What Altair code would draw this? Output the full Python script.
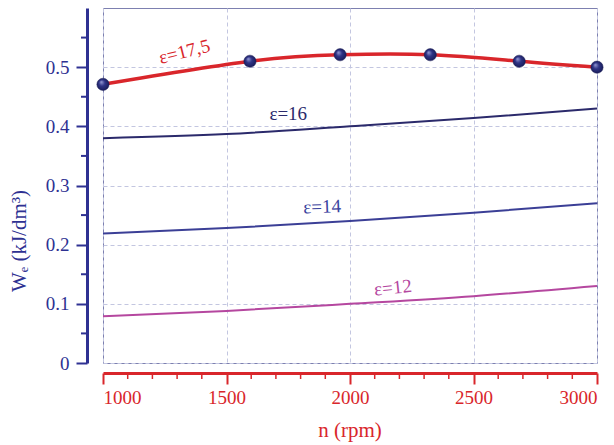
import altair as alt
import pandas as pd

# Data
n_175 = [1000, 1595, 1960, 2325, 2685, 3000]
w_175 = [0.471, 0.510, 0.521, 0.521, 0.510, 0.500]

n_lines = [1000, 1500, 2000, 2500, 3000]
w_16 = [0.380, 0.387, 0.400, 0.414, 0.430]
w_14 = [0.219, 0.228, 0.240, 0.254, 0.270]
w_12 = [0.079, 0.088, 0.100, 0.113, 0.130]

label_text = ["ε=17,5", "ε=16", "ε=14", "ε=12"]
label_n = [1330, 1750, 1887, 2174]
label_w = [0.526, 0.421, 0.264, 0.127]
label_angle = [346, 0, 358, 354]
label_color = ["#d9262b", "#2b2a6b", "#3b44a0", "#b5479f"]

y_ticks = [0, 0.1, 0.2, 0.3, 0.4, 0.5]
y_minor = [0.05, 0.15, 0.25, 0.35, 0.45, 0.55]
x_ticks = [1000, 1500, 2000, 2500, 3000]
x_minor = [v for v in range(1100, 3000, 100) if v % 500 != 0]

BLUE = "#2e3192"
RED = "#d9262b"
FONT = "Liberation Serif"
W, H = 494, 355

df175 = pd.DataFrame({"n": n_175, "w": w_175})
dflines = pd.DataFrame({
    "n": n_lines * 3,
    "w": w_16 + w_14 + w_12,
    "s": ["16"] * 5 + ["14"] * 5 + ["12"] * 5,
})
dflab = pd.DataFrame({"n": label_n, "w": label_w, "t": label_text,
                      "a": label_angle, "c": label_color})

xscale = alt.Scale(domain=[1000, 3000], nice=False)
yscale = alt.Scale(domain=[0, 0.6], nice=False)

xaxis = alt.Axis(values=x_ticks, format="d", title=None, offset=10,
                 domainColor=RED, domainWidth=3, tickColor=RED, tickWidth=2,
                 tickSize=11, labelColor=RED, labelFont=FONT, labelFontSize=19,
                 labelPadding=4, grid=True, gridColor="#c3c6e0",
                 gridDash=[4, 3], gridWidth=1)
yaxis = alt.Axis(values=y_ticks, title=None, offset=16,
                 labelExpr="datum.value == 0 ? '0' : format(datum.value, '.1f')",
                 domainColor=BLUE, domainWidth=3, tickColor=BLUE, tickWidth=2,
                 tickSize=11, labelColor=BLUE, labelFont=FONT, labelFontSize=19,
                 labelPadding=7, grid=True, gridColor="#c3c6e0",
                 gridDash=[4, 3], gridWidth=1)

base_x = alt.X("n:Q", scale=xscale, axis=xaxis)
base_y = alt.Y("w:Q", scale=yscale, axis=yaxis)

lines = alt.Chart(dflines).mark_line(interpolate="monotone", strokeWidth=2).encode(
    x=base_x, y=base_y,
    color=alt.Color("s:N", scale=alt.Scale(domain=["16", "14", "12"],
                                           range=["#2b2a6b", "#3b3f96", "#b5479f"]),
                    legend=None),
)

red_line = alt.Chart(df175).mark_line(interpolate="natural", strokeWidth=3.5,
                                      color=RED).encode(
    x=alt.X("n:Q", scale=xscale), y=alt.Y("w:Q", scale=yscale))

sphere = alt.Gradient(
    gradient="radial",
    stops=[alt.GradientStop(color="#9a9fd8", offset=0),
           alt.GradientStop(color="#2f3486", offset=0.45),
           alt.GradientStop(color="#171a55", offset=1)],
    x1=0.35, y1=0.3, r1=0, x2=0.5, y2=0.5, r2=0.55,
)
pts = alt.Chart(df175).mark_circle(size=150, opacity=1, fill=sphere,
                                   stroke="#1a1d55", strokeWidth=0.5).encode(
    x=alt.X("n:Q", scale=xscale), y=alt.Y("w:Q", scale=yscale))

labels = alt.Chart(dflab).mark_text(font=FONT, fontSize=19, align="center",
                                    baseline="middle").encode(
    x=alt.X("n:Q", scale=xscale), y=alt.Y("w:Q", scale=yscale),
    text="t:N",
    angle=alt.Angle("a:Q", scale=None),
    color=alt.Color("c:N", scale=None),
)

ymin = alt.Chart(pd.DataFrame({"w": y_minor})).mark_rule(color=BLUE, strokeWidth=2).encode(
    y=alt.Y("w:Q", scale=yscale), x=alt.value(-22), x2=alt.value(-16))

xmin = alt.Chart(pd.DataFrame({"n": x_minor})).mark_rule(color=RED, strokeWidth=1.5).encode(
    x=alt.X("n:Q", scale=xscale), y=alt.value(H + 10), y2=alt.value(H + 16))

ytitle = alt.Chart(pd.DataFrame({"t": ["Wₑ (kJ/dm³)"]})).mark_text(
    font=FONT, fontSize=21, color=BLUE, angle=270, align="center",
    baseline="middle").encode(text="t:N", x=alt.value(-83), y=alt.value(233))

xtitle = alt.Chart(pd.DataFrame({"t": ["n (rpm)"]})).mark_text(
    font=FONT, fontSize=21, color=RED, align="center",
    baseline="middle").encode(text="t:N", x=alt.value(W / 2), y=alt.value(423))

chart = alt.layer(lines, red_line, pts, labels, ymin, xmin, ytitle, xtitle).properties(
    width=W, height=H,
    autosize=alt.AutoSizeParams(type="none"),
    padding={"left": 95, "top": 0, "right": 9, "bottom": 80},
).configure_view(stroke="#7d80b0", strokeWidth=1)

chart.save("out.html", embed_options={"renderer": "svg", "actions": False})
